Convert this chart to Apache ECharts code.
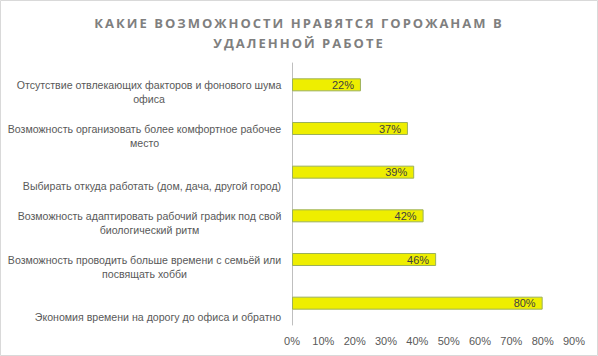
<!DOCTYPE html>
<html><head><meta charset="utf-8">
<script src="https://cdn.jsdelivr.net/npm/echarts@6/dist/echarts.min.js"></script>
<style>html,body{margin:0;padding:0;background:#fff}#c{width:598px;height:356px}</style>
</head><body><div id="c"></div>
<script>
const titleText = 'КАКИЕ ВОЗМОЖНОСТИ НРАВЯТСЯ ГОРОЖАНАМ В\nУДАЛЕННОЙ РАБОТЕ';
const categories = [
  'Отсутствие отвлекающих факторов и фонового шума\nофиса',
  'Возможность организовать более комфортное рабочее\nместо',
  'Выбирать откуда работать (дом, дача, другой город)',
  'Возможность адаптировать рабочий график под свой\nбиологический ритм',
  'Возможность проводить больше времени с семьёй или\nпосвящать хобби',
  'Экономия времени на дорогу до офиса и обратно'
];
const values = [22, 37, 39, 42, 46, 80];
const xTicks = {min: 0, max: 90, interval: 10};

const font = '"Liberation Sans", sans-serif';
const fs = 10.6;
const ctx = document.createElement('canvas').getContext('2d');
ctx.font = fs + 'px ' + font;
const rich = {};
categories.forEach((c, i) => {
  const w = Math.max(...c.split('\n').map(s => ctx.measureText(s).width));
  rich['r' + i] = {width: Math.ceil(w) + 1, align: 'center', color: '#595959', fontFamily: font, fontSize: fs, lineHeight: 14};
});

const chart = echarts.init(document.getElementById('c'), null, {renderer: 'svg'});
chart.setOption({
  animation: false,
  backgroundColor: '#fff',
  title: {
    text: titleText, left: 'center', top: 8,
    textStyle: {fontFamily: '"Open Sans", sans-serif', fontWeight: 'bold', fontSize: 13, color: '#7f7f7f', lineHeight: 20}
  },
  graphic: [{type: 'rect', shape: {x: 0.5, y: 0.5, width: 597, height: 355}, style: {fill: 'none', stroke: '#d9d9d9', lineWidth: 1}, silent: true}],
  grid: {left: 292, right: 24, top: 63, bottom: 31},
  xAxis: {
    type: 'value', min: xTicks.min, max: xTicks.max, interval: xTicks.interval,
    axisLine: {show: false}, axisTick: {show: false}, splitLine: {show: false},
    axisLabel: {formatter: '{value}%', color: '#595959', fontFamily: font, fontSize: 11, margin: 10}
  },
  yAxis: {
    type: 'category', data: categories, inverse: true,
    axisLine: {show: true, lineStyle: {color: '#bfbfbf', width: 1}},
    axisTick: {show: false},
    axisLabel: {
      color: '#595959', fontFamily: font, fontSize: fs, lineHeight: 14, margin: 10, align: 'right',
      rich: rich,
      formatter: (v, i) => {
        const lines = v.split('\n');
        const pad = lines.length > 1 ? ['{r' + i + '| }'] : ['{r' + i + '| }', '{r' + i + '| }'];
        return pad.concat(lines.map(s => '{r' + i + '|' + s + '}')).join('\n');
      }
    }
  },
  series: [{
    type: 'bar', data: values, barWidth: 13,
    itemStyle: {color: '#eeee00', borderColor: '#9bb05a', borderWidth: 1},
    label: {show: true, position: 'insideRight', offset: [-2, 0], formatter: '{c}%', color: '#404040', fontFamily: font, fontSize: 11}
  }]
});
function spaceTitle(){
  document.querySelectorAll('#c svg text').forEach(t => {
    const s = t.textContent;
    if (s.indexOf('КАКИЕ') === 0 || s.indexOf('УДАЛЕННОЙ') === 0) t.setAttribute('letter-spacing', '2');
  });
}
spaceTitle();
chart.on('finished', spaceTitle);
</script></body></html>
